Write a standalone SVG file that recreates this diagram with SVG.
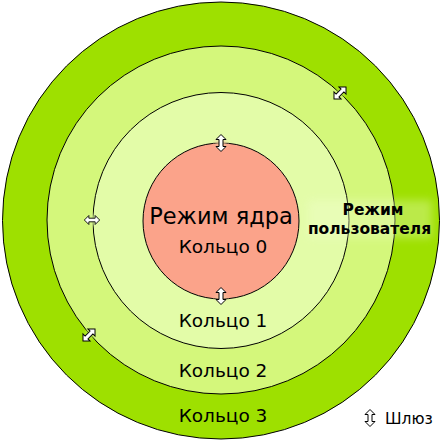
<svg xmlns="http://www.w3.org/2000/svg" width="445" height="445" viewBox="0 0 445 445">
<style>
.ring{stroke:#000;stroke-width:1}
.lbl{font-family:"DejaVu Sans",sans-serif;text-anchor:middle;fill:#000}
.gw{fill:#fff;stroke:#000;stroke-width:1;stroke-linejoin:miter}
</style>
<defs>
<path id="arr" d="M0,-8.5 L5,-3.5 L2,-3.5 L2,3.5 L5,3.5 L0,8.5 L-5,3.5 L-2,3.5 L-2,-3.5 L-5,-3.5 Z"/>
<filter id="bl" x="-50%" y="-50%" width="200%" height="200%"><feGaussianBlur stdDeviation="2"/></filter>
<filter id="bl2" x="-30%" y="-50%" width="160%" height="200%"><feGaussianBlur stdDeviation="4"/></filter>
</defs>
<g id="ring3"><circle class="ring" cx="221" cy="220.5" r="218.5" fill="#9ee000"/></g>
<g id="ring2"><circle class="ring" cx="221" cy="220" r="174" fill="#d4f77b"/></g>
<g id="ring1"><circle class="ring" cx="221" cy="220.5" r="128" fill="#e3fca8"/></g>
<g id="ring0"><circle class="ring" cx="221" cy="221" r="78" fill="#fba38a"/></g>
<rect x="308" y="200" width="124" height="38" fill="#f2ffd0" opacity="0.35" filter="url(#bl2)"/>
<g id="texts">
<text class="lbl" x="221" y="224" font-size="22.5">Режим ядра</text>
<text class="lbl" x="223" y="253" font-size="18.5">Кольцо 0</text>
<text class="lbl" x="223" y="327" font-size="18.5">Кольцо 1</text>
<text class="lbl" x="223" y="377" font-size="18.5">Кольцо 2</text>
<text class="lbl" x="223" y="422" font-size="18.5">Кольцо 3</text>
<text class="lbl" x="373" y="215" font-size="15.5" font-weight="bold">Режим</text>
<text class="lbl" x="369.5" y="234" font-size="15.5" font-weight="bold">пользователя</text>
<text x="385" y="424" font-size="15.5" font-family="'DejaVu Sans',sans-serif" fill="#000">Шлюз</text>
</g>
<g id="gateways">
<g id="gw-k-top"><ellipse cx="221" cy="143" rx="6" ry="3" fill="#f3c9a0" filter="url(#bl)"/><use href="#arr" class="gw" transform="translate(221,143)"/></g>
<g id="gw-k-bot"><ellipse cx="221" cy="297" rx="6" ry="3" fill="#f3c9a0" filter="url(#bl)"/><use href="#arr" class="gw" transform="translate(221,296)"/></g>
<g id="gw-r1-left"><ellipse cx="93" cy="220" rx="3" ry="6" fill="#dcfa9a" filter="url(#bl)"/><use href="#arr" class="gw" transform="translate(92,220) rotate(90) scale(0.9)"/></g>
<g id="gw-r2-tr"><circle cx="341" cy="93" r="4" fill="#c0ee50" filter="url(#bl)"/><use href="#arr" class="gw" transform="translate(340,93) rotate(45)"/></g>
<g id="gw-r2-bl"><circle cx="89" cy="335" r="4" fill="#c0ee50" filter="url(#bl)"/><use href="#arr" class="gw" transform="translate(89,335) rotate(45)"/></g>
<g id="gw-legend"><use href="#arr" class="gw" transform="translate(370,418)"/></g>
</g>
</svg>
